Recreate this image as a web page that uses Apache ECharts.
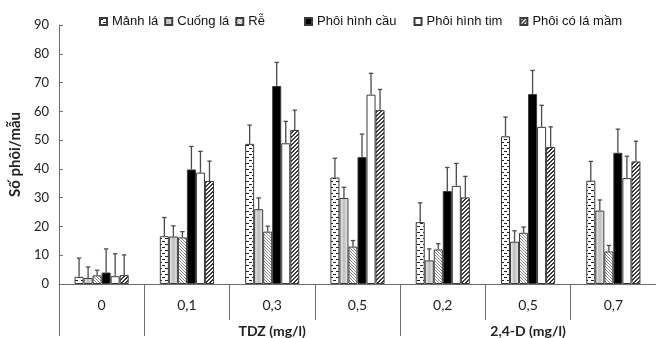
<!DOCTYPE html>
<html><head><meta charset="utf-8">
<script src="https://cdn.jsdelivr.net/npm/echarts@6/dist/echarts.min.js"></script>
<style>html,body{margin:0;padding:0;background:#fff;overflow:hidden}#c{width:656px;height:338px}</style>
</head><body><div id="c"></div>
<script>
// ---- data ----
const categories = ['0', '0,1', '0,3', '0,5', '0,2', '0,5', '0,7'];
const groupLabels = ['TDZ (mg/l)', '2,4-D (mg/l)'];
const seriesNames = ['Mảnh lá', 'Cuống lá', 'Rễ', 'Phôi hình cầu', 'Phôi hình tim', 'Phôi có lá mầm'];
const manhLa      = [2.5, 16.6, 48.7, 37.0, 21.5, 51.3, 35.9];
const cuongLa     = [2.1, 16.5, 26.0, 29.9, 8.2, 14.7, 25.5];
const re          = [3.0, 16.2, 18.2, 13.0, 12.0, 17.8, 11.3];
const phoiCau     = [4.0, 39.8, 68.8, 44.1, 32.3, 66.0, 45.6];
const phoiTim     = [2.7, 38.7, 48.9, 65.8, 34.1, 54.6, 36.8];
const phoiLaMam   = [3.1, 35.8, 53.5, 60.4, 30.1, 47.6, 42.6];
const errManhLa   = [6.5, 6.5, 6.5, 6.7, 6.7, 6.7, 6.7];
const errCuongLa  = [3.8, 3.7, 3.9, 3.7, 4.0, 3.8, 3.7];
const errRe       = [1.8, 2.0, 1.9, 2.1, 2.0, 2.0, 2.1];
const errPhoiCau  = [8.2, 8.0, 8.2, 8.0, 8.2, 8.2, 8.2];
const errPhoiTim  = [7.8, 7.4, 7.6, 7.4, 7.8, 7.5, 7.6];
const errPhoiLaMam= [7.0, 6.9, 6.9, 7.2, 7.3, 7.0, 7.0];
const yTicks = {min: 0, max: 90, interval: 10};

const values = [manhLa, cuongLa, re, phoiCau, phoiTim, phoiLaMam];
const errors = [errManhLa, errCuongLa, errRe, errPhoiCau, errPhoiTim, errPhoiLaMam];

// ---- fills ----
function pattern(w, h, draw) {
  const c = document.createElement('canvas');
  c.width = w; c.height = h;
  const ctx = c.getContext('2d');
  ctx.fillStyle = '#fff'; ctx.fillRect(0, 0, w, h);
  draw(ctx, w, h);
  return {image: c, repeat: 'repeat'};
}
const fillDots = pattern(6, 6, (ctx) => {
  ctx.fillStyle = '#222';
  ctx.fillRect(0, 1, 3, 1); ctx.fillRect(3, 4, 3, 1);
});
const fillGrad = {type: 'linear', x: 0, y: 0, x2: 1, y2: 0, colorStops: [
  {offset: 0, color: '#f4f4f4'}, {offset: 0.5, color: '#bdbdbd'}, {offset: 1, color: '#f4f4f4'}]};
const fillBack = pattern(3, 3, (ctx) => {
  ctx.fillStyle = '#8a8a8a';
  for (let i = 0; i < 3; i++) ctx.fillRect(i, i, 1, 1);
});
const fillFwd = pattern(4, 4, (ctx) => {
  ctx.fillStyle = '#3a3a3a';
  for (let i = 0; i < 4; i++) { ctx.fillRect((3 - i + 4) % 4, i, 1, 1); ctx.fillRect((4 - i + 4) % 4, i, 1, 1); }
});
const fills = [fillDots, fillGrad, fillBack, '#000', '#fff', fillFwd];

const CAT_GAP = 0.365;
const barSeries = seriesNames.map((n, i) => ({
  name: n, type: 'bar', data: values[i], barGap: 0, barCategoryGap: (CAT_GAP * 100) + '%',
  itemStyle: {color: fills[i], borderColor: '#3c3c3c', borderWidth: 1},
  emphasis: {disabled: true}, z: 2
}));

const errData = [];
values.forEach((arr, s) => arr.forEach((v, c) => errData.push([c, s, v, errors[s][c]])));

const errSeries = {
  type: 'custom', data: errData, encode: {x: 0, y: 2}, z: 5, silent: true,
  renderItem: function (params, api) {
    const c = api.value(0), s = api.value(1), v = api.value(2), e = api.value(3);
    const band = api.size([1, 0])[0];
    const bw = band * (1 - CAT_GAP) / 6;
    const x = api.coord([c, 0])[0] + (s - 2.5) * bw;
    const y1 = api.coord([c, v])[1];
    const y2 = api.coord([c, v + e])[1];
    const st = {stroke: '#4a4a4a', lineWidth: 1.3};
    return {type: 'group', children: [
      {type: 'line', shape: {x1: x, y1: y1, x2: x, y2: y2}, style: st},
      {type: 'line', shape: {x1: x - 2.2, y1: y2, x2: x + 2.2, y2: y2}, style: st}
    ]};
  }
};

const legendText = {fontFamily: 'Liberation Sans', fontSize: 13, color: '#111'};
const chart = echarts.init(document.getElementById('c'), null, {renderer: 'canvas'});
chart.setOption({
  animation: false,
  backgroundColor: '#fff',
  grid: {left: 58, right: -9, top: 25, bottom: 52, containLabel: false},
  legend: [
    {data: seriesNames.slice(0, 3), left: 99, top: 15, itemWidth: 7, itemHeight: 7, itemGap: 6,
     icon: 'rect', textStyle: legendText, selectedMode: false, padding: 0},
    {data: seriesNames.slice(3), left: 304, top: 15, itemWidth: 7, itemHeight: 7, itemGap: 17,
     icon: 'rect', textStyle: legendText, selectedMode: false, padding: 0}
  ],
  xAxis: [
    {type: 'category', data: categories, position: 'bottom',
     axisLine: {lineStyle: {color: '#6e6e6e', width: 1}},
     axisTick: {show: true, interval: 0, length: 36, lineStyle: {color: '#6e6e6e'}},
     axisLabel: {interval: 0, margin: 14, fontFamily: 'Lato', fontSize: 14, color: '#222'},
     splitLine: {show: false}},
    {type: 'value', min: 0, max: 7, position: 'bottom', offset: 36,
     axisLine: {show: false}, splitLine: {show: false},
     axisTick: {show: true, customValues: [0, 1, 4], length: 16, lineStyle: {color: '#6e6e6e'}},
     axisLabel: {customValues: [2.5, 5.5], margin: 4, fontFamily: 'Lato', fontSize: 14, fontWeight: 'bold', color: '#222',
       formatter: (v) => (v < 4 ? groupLabels[0] : groupLabels[1])}}
  ],
  yAxis: {type: 'value', min: yTicks.min, max: yTicks.max, interval: yTicks.interval,
    name: 'Số phôi/mẫu', nameLocation: 'middle', nameGap: 31,
    nameTextStyle: {fontFamily: 'Lato', fontSize: 15, fontWeight: 'bold', color: '#222'},
    axisLine: {show: true, lineStyle: {color: '#6e6e6e'}},
    axisTick: {show: true, inside: true, length: 4, lineStyle: {color: '#6e6e6e'}},
    axisLabel: {margin: 10, fontFamily: 'Lato', fontSize: 13, color: '#222'},
    splitLine: {show: false}},
  series: barSeries.concat([errSeries])
});
</script></body></html>
